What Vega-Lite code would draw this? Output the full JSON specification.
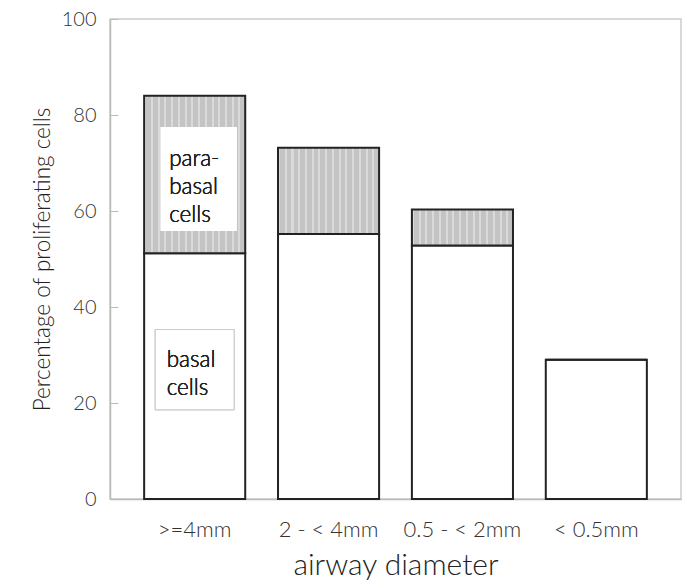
{
  "$schema": "https://vega.github.io/schema/vega-lite/v6.json",
  "width": 571,
  "height": 480,
  "autosize": {"type": "none"},
  "padding": {"left": 110, "top": 19, "right": 8, "bottom": 85},
  "config": {
    "font": "Lato",
    "view": {"stroke": "#cccccc", "strokeWidth": 1.5},
    "axis": {"grid": false, "labelFont": "Lato", "titleFont": "Lato", "labelFontWeight": 300, "titleFontWeight": 300, "labelColor": "#333333", "titleColor": "#222222", "domainColor": "#bbbbbb", "tickColor": "#bbbbbb"}
  },
  "data": {
    "values": [
      {"diameter": ">=4mm", "basal": 51.2, "total": 84.0},
      {"diameter": "2 - < 4mm", "basal": 55.2, "total": 73.2},
      {"diameter": "0.5 - < 2mm", "basal": 52.8, "total": 60.3},
      {"diameter": "< 0.5mm", "basal": 29.0, "total": 29.0}
    ]
  },
  "encoding": {
    "x": {
      "field": "diameter", "type": "nominal", "sort": null,
      "scale": {"paddingInner": 0.245, "paddingOuter": 0.255},
      "axis": {"title": "airway diameter", "labelAngle": 0, "ticks": false, "labelFontSize": 22, "labelPadding": 20, "titleFontSize": 30, "titlePadding": 10, "domainWidth": 1.5}
    }
  },
  "layer": [
    {
      "mark": {"type": "bar", "fill": "white", "stroke": "#222222", "strokeWidth": 2},
      "encoding": {
        "y": {"field": "basal", "type": "quantitative", "scale": {"domain": [0, 100]},
          "axis": {"title": "Percentage of proliferating cells", "values": [0, 20, 40, 60, 80, 100], "labelFontSize": 20, "titleFontSize": 22.5, "tickSize": -8, "labelPadding": 22, "titlePadding": 7, "domainWidth": 1.5}}
      }
    },
    {
      "mark": {"type": "bar", "stroke": "#222222", "strokeWidth": 2,
        "fill": {"gradient": "linear", "x1": 0, "x2": 1, "y1": 0, "y2": 0, "stops": [
          {"offset": 0, "color": "#dadada"}, {"offset": 0.02, "color": "#dadada"}, {"offset": 0.02, "color": "#c4c4c4"}, {"offset": 0.0667, "color": "#c4c4c4"},
          {"offset": 0.0667, "color": "#dadada"}, {"offset": 0.0867, "color": "#dadada"}, {"offset": 0.0867, "color": "#c4c4c4"}, {"offset": 0.1333, "color": "#c4c4c4"},
          {"offset": 0.1333, "color": "#dadada"}, {"offset": 0.1533, "color": "#dadada"}, {"offset": 0.1533, "color": "#c4c4c4"}, {"offset": 0.2, "color": "#c4c4c4"},
          {"offset": 0.2, "color": "#dadada"}, {"offset": 0.22, "color": "#dadada"}, {"offset": 0.22, "color": "#c4c4c4"}, {"offset": 0.2667, "color": "#c4c4c4"},
          {"offset": 0.2667, "color": "#dadada"}, {"offset": 0.2867, "color": "#dadada"}, {"offset": 0.2867, "color": "#c4c4c4"}, {"offset": 0.3333, "color": "#c4c4c4"},
          {"offset": 0.3333, "color": "#dadada"}, {"offset": 0.3533, "color": "#dadada"}, {"offset": 0.3533, "color": "#c4c4c4"}, {"offset": 0.4, "color": "#c4c4c4"},
          {"offset": 0.4, "color": "#dadada"}, {"offset": 0.42, "color": "#dadada"}, {"offset": 0.42, "color": "#c4c4c4"}, {"offset": 0.4667, "color": "#c4c4c4"},
          {"offset": 0.4667, "color": "#dadada"}, {"offset": 0.4867, "color": "#dadada"}, {"offset": 0.4867, "color": "#c4c4c4"}, {"offset": 0.5333, "color": "#c4c4c4"},
          {"offset": 0.5333, "color": "#dadada"}, {"offset": 0.5533, "color": "#dadada"}, {"offset": 0.5533, "color": "#c4c4c4"}, {"offset": 0.6, "color": "#c4c4c4"},
          {"offset": 0.6, "color": "#dadada"}, {"offset": 0.62, "color": "#dadada"}, {"offset": 0.62, "color": "#c4c4c4"}, {"offset": 0.6667, "color": "#c4c4c4"},
          {"offset": 0.6667, "color": "#dadada"}, {"offset": 0.6867, "color": "#dadada"}, {"offset": 0.6867, "color": "#c4c4c4"}, {"offset": 0.7333, "color": "#c4c4c4"},
          {"offset": 0.7333, "color": "#dadada"}, {"offset": 0.7533, "color": "#dadada"}, {"offset": 0.7533, "color": "#c4c4c4"}, {"offset": 0.8, "color": "#c4c4c4"},
          {"offset": 0.8, "color": "#dadada"}, {"offset": 0.82, "color": "#dadada"}, {"offset": 0.82, "color": "#c4c4c4"}, {"offset": 0.8667, "color": "#c4c4c4"},
          {"offset": 0.8667, "color": "#dadada"}, {"offset": 0.8867, "color": "#dadada"}, {"offset": 0.8867, "color": "#c4c4c4"}, {"offset": 0.9333, "color": "#c4c4c4"},
          {"offset": 0.9333, "color": "#dadada"}, {"offset": 0.9533, "color": "#dadada"}, {"offset": 0.9533, "color": "#c4c4c4"}, {"offset": 1, "color": "#c4c4c4"}
        ]}},
      "encoding": {
        "y": {"field": "basal", "type": "quantitative"},
        "y2": {"field": "total"}
      }
    },
    {
      "mark": {"type": "bar", "fill": "white", "width": {"band": 0.75}, "xOffset": 4},
      "encoding": {
        "x": {"datum": ">=4mm"},
        "y": {"datum": 77.5, "type": "quantitative"},
        "y2": {"datum": 55.9}
      }
    },
    {
      "mark": {"type": "bar", "fill": "white", "stroke": "#cccccc", "strokeWidth": 1, "width": {"band": 0.78}},
      "encoding": {
        "x": {"datum": ">=4mm"},
        "y": {"datum": 35.3, "type": "quantitative"},
        "y2": {"datum": 18.6}
      }
    },
    {
      "mark": {"type": "text", "align": "left", "baseline": "alphabetic", "dx": -25.5, "fontSize": 22.5, "fontWeight": 300, "lineHeight": 28, "lineBreak": "\n", "color": "#222222", "font": "Lato"},
      "encoding": {
        "x": {"datum": ">=4mm"},
        "y": {"datum": 69.4, "type": "quantitative"},
        "text": {"value": "para-\nbasal\ncells"}
      }
    },
    {
      "mark": {"type": "text", "align": "left", "baseline": "alphabetic", "dx": -28, "fontSize": 22.5, "fontWeight": 300, "lineHeight": 28, "lineBreak": "\n", "color": "#222222", "font": "Lato"},
      "encoding": {
        "x": {"datum": ">=4mm"},
        "y": {"datum": 27.5, "type": "quantitative"},
        "text": {"value": "basal\ncells"}
      }
    }
  ]
}
